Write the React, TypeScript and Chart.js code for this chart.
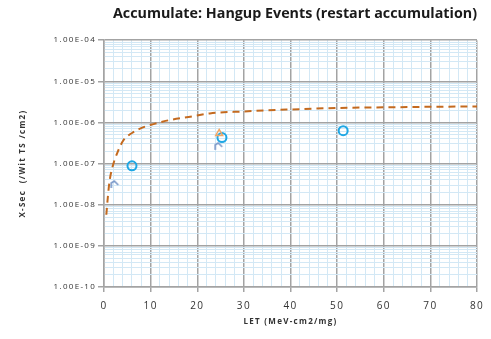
import React, { useEffect, useRef } from 'react';
import { Chart, registerables } from 'chart.js';

Chart.register(...registerables);

const TITLE = 'Accumulate: Hangup Events (restart accumulation)';
const X_TITLE = 'LET (MeV-cm2/mg)';
const Y_TITLE = 'X-Sec  (/Wit TS /cm2)';

const X_MAJOR = [0, 10, 20, 30, 40, 50, 60, 70, 80];
const X_MINOR = [2, 4, 6, 8];
const Y_DECADES = [1e-10, 1e-9, 1e-8, 1e-7, 1e-6, 1e-5, 1e-4];
const Y_LABELS = ['1.00E-10', '1.00E-09', '1.00E-08', '1.00E-07', '1.00E-06', '1.00E-05', '1.00E-04'];
const Y_MINOR = [2, 3, 4, 5, 6, 7, 8, 9];

const CIRCLE_LET = [6, 25.3, 51.3];
const CIRCLE_XSEC = [8.8e-8, 4.3e-7, 6.3e-7];
const ORANGE_LET = [24.7];
const ORANGE_XSEC = [5.4e-7];
const HOOK_LET = [2.2, 24.5];
const HOOK_XSEC = [3.2e-8, 2.7e-7];
const FIT_LET = [0.5, 0.86, 1.2, 1.9, 3.0, 4.1, 5.2, 6.3, 7.5, 8.8, 10.6, 12.5, 14.2, 18.5, 22.7, 29.9, 39.2, 50, 60.7, 70, 80];
const FIT_XSEC = [5.7e-9, 1.7e-8, 3.8e-8, 8.9e-8, 2.0e-7, 3.6e-7, 4.8e-7, 5.8e-7, 6.9e-7, 7.9e-7, 9.1e-7, 1.04e-6, 1.15e-6, 1.38e-6, 1.66e-6, 1.85e-6, 2.05e-6, 2.25e-6, 2.33e-6, 2.4e-6, 2.45e-6];

const FONT = "'Open Sans', 'Liberation Sans', sans-serif";
const MAJOR_GRID = '#A3A3A3';
const MINOR_GRID = '#D3E8F5';

const pairs = (xs: number[], ys: number[]) => xs.map((x, i) => ({ x, y: ys[i] }));

const isYMajor = (v: number) => Y_DECADES.some((d) => Math.abs(Math.log10(v) - Math.log10(d)) < 1e-6);
const isXMajor = (v: number) => X_MAJOR.includes(v);

function makeHook(color: string) {
  const c = document.createElement('canvas');
  c.width = 12;
  c.height = 12;
  const g = c.getContext('2d')!;
  g.strokeStyle = color;
  g.lineWidth = 1.7;
  g.beginPath();
  g.moveTo(3, 10);
  g.lineTo(3, 5);
  g.lineTo(6, 3);
  g.lineTo(10, 7);
  g.stroke();
  return c;
}

// draw a scale's texts with extra letter spacing (the reference text is widely spaced)
function spaced(s: any, spacing: string) {
  if (s.__spaced) return;
  s.__spaced = true;
  const orig = s.draw;
  s.draw = function (area: any) {
    const ctx = this.ctx as any;
    ctx.save();
    ctx.letterSpacing = spacing;
    orig.call(this, area);
    ctx.restore();
  };
}

export default function App() {
  const ref = useRef<HTMLCanvasElement>(null);
  useEffect(() => {
    if (!ref.current) return;
    const xTicks: number[] = [];
    X_MAJOR.forEach((m, i) => {
      xTicks.push(m);
      if (i < X_MAJOR.length - 1) X_MINOR.forEach((k) => xTicks.push(m + k));
    });
    const yTicks: number[] = [];
    Y_DECADES.forEach((d, i) => {
      yTicks.push(d);
      if (i < Y_DECADES.length - 1) Y_MINOR.forEach((k) => yTicks.push(Number((k * d).toPrecision(6))));
    });
    const hook = makeHook('#7B99C9');
    const chart = new Chart(ref.current, {
      type: 'scatter',
      data: {
        datasets: [
          {
            label: 'fit',
            data: pairs(FIT_LET, FIT_XSEC),
            showLine: true,
            borderColor: '#C46A1F',
            borderWidth: 2,
            borderDash: [7, 5],
            pointRadius: 0,
            cubicInterpolationMode: 'monotone',
            fill: false,
          },
          {
            label: 'hook',
            data: pairs(HOOK_LET, HOOK_XSEC),
            pointStyle: hook as any,
            pointRadius: 6,
          },
          {
            label: 'orange',
            data: pairs(ORANGE_LET, ORANGE_XSEC),
            pointStyle: 'triangle',
            pointRadius: 4,
            borderColor: '#F2A765',
            backgroundColor: 'transparent',
            borderWidth: 1.5,
          },
          {
            label: 'circles',
            data: pairs(CIRCLE_LET, CIRCLE_XSEC),
            pointStyle: 'circle',
            pointRadius: 4.5,
            borderColor: '#1EA7E4',
            backgroundColor: 'transparent',
            borderWidth: 2,
          },
        ],
      },
      options: {
        responsive: false,
        animation: false,
        layout: { padding: { left: 0, right: 14, top: 0, bottom: 0 } },
        plugins: {
          legend: { display: false },
          tooltip: { enabled: false },
          title: {
            display: true,
            text: TITLE,
            align: 'end',
            color: '#1a1a1a',
            font: { family: FONT, size: 14.3, weight: 'bold' },
            padding: { top: 5, bottom: 18 },
          },
        },
        scales: {
          x: {
            type: 'linear',
            min: 0,
            max: 80,
            afterBuildTicks: (s: any) => {
              s.ticks = xTicks.map((value) => ({ value }));
            },
            afterFit: (s: any) => {
              s.height = 52;
              spaced(s, '1.3px');
            },
            ticks: {
              autoSkip: false,
              maxRotation: 0,
              padding: 8,
              color: '#333',
              font: { family: FONT, size: 10 },
              callback: (v: any) => (isXMajor(Number(v)) ? String(v) : ''),
            },
            grid: {
              color: (c: any) => (c.tick && isXMajor(c.tick.value) ? MAJOR_GRID : MINOR_GRID),
              lineWidth: (c: any) => (c.tick && isXMajor(c.tick.value) ? 1.5 : 1),
              tickColor: (c: any) => (c.tick && isXMajor(c.tick.value) ? MAJOR_GRID : 'transparent'),
              tickLength: 5,
            },
            border: { color: MAJOR_GRID, width: 1.5 },
            title: {
              display: true,
              text: X_TITLE,
              color: '#333',
              font: { family: FONT, size: 8, weight: 'bold' },
              padding: { top: 0, bottom: 12 },
            },
          },
          y: {
            type: 'logarithmic',
            min: 1e-10,
            max: 1e-4,
            afterBuildTicks: (s: any) => {
              s.ticks = yTicks.map((value) => ({ value }));
            },
            afterFit: (s: any) => {
              s.width = 104;
              spaced(s, '1.3px');
            },
            ticks: {
              autoSkip: false,
              padding: 2,
              color: '#333',
              font: { family: FONT, size: 8 },
              callback: (v: any) => {
                const n = Number(v);
                const i = Y_DECADES.findIndex((d) => Math.abs(Math.log10(n) - Math.log10(d)) < 1e-6);
                return i >= 0 ? Y_LABELS[i] : '';
              },
            },
            grid: {
              color: (c: any) => (c.tick && isYMajor(c.tick.value) ? MAJOR_GRID : MINOR_GRID),
              lineWidth: (c: any) => (c.tick && isYMajor(c.tick.value) ? 1.5 : 1),
              tickColor: (c: any) => (c.tick && isYMajor(c.tick.value) ? MAJOR_GRID : 'transparent'),
              tickLength: 6,
            },
            border: { color: MAJOR_GRID, width: 1.5 },
            title: {
              display: true,
              text: Y_TITLE,
              color: '#333',
              font: { family: FONT, size: 8, weight: 'bold' },
              padding: { top: 18, bottom: 0 },
            },
          },
        },
      },
    });
    return () => chart.destroy();
  }, []);
  return (
    <div style={{ position: 'absolute', left: 0, top: 0, width: 491, height: 339, background: '#fff' }}>
      <canvas ref={ref} width={491} height={339} style={{ display: 'block' }} />
    </div>
  );
}
